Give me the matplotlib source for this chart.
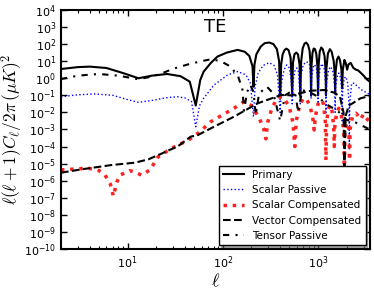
import numpy as np
import matplotlib
matplotlib.use('Agg')
import matplotlib.pyplot as plt
from matplotlib.ticker import LogLocator, NullFormatter

plt.rcParams['mathtext.fontset'] = 'cm'

# multipoles and log10 amplitudes
ell_pri = [2, 3, 4, 6, 9, 13, 18, 26, 36, 45, 52, 58, 63, 75, 88, 110, 143, 170, 190, 205, 210,
           215, 225, 250, 275, 307, 340, 370, 390, 400, 410, 425, 445, 465, 490, 515, 535, 545,
           565, 590, 615, 640, 650, 665, 690, 720, 750, 785, 815, 835, 845, 855, 875, 900, 930,
           960, 985, 1000, 1015, 1040, 1080, 1120, 1170, 1200, 1210, 1225, 1270, 1330, 1390,
           1460, 1500, 1510, 1530, 1580, 1640, 1700, 1760, 1790, 1820, 1890, 1950, 2020, 2080,
           2200, 2350, 2500, 2650, 2950, 3300, 3500]
pri = [0.54, 0.65, 0.68, 0.6, 0.3, 0.0, 0.15, 0.25, 0.12, -0.2, -1.6, -0.1, 0.39, 0.9, 1.27,
       1.5, 1.66, 1.55, 1.3, 0.7, -0.5, 0.8, 1.4, 1.85, 2.05, 2.09, 2.0, 1.7, 1.0, -1.2, 0.8,
       1.4, 1.65, 1.73, 1.65, 1.2, -0.9, 0.9, 1.4, 1.5, 1.4, 0.8, -1.0, 1.0, 1.75, 2.02, 2.09,
       1.95, 1.6, 0.8, -1.0, 0.8, 1.5, 1.74, 1.7, 1.4, 0.7, -1.0, 0.8, 1.55, 1.8, 1.7, 1.3, 0.5,
       -1.0, 0.6, 1.45, 1.7, 1.55, 1.0, 0.2, -0.9, 0.4, 1.1, 1.27, 1.05, 0.5, -0.6, 0.5, 1.07,
       0.9, 0.5, 0.8, 0.9, 0.6, 0.5, 0.45, 0.2, -0.1, -0.2]

ell_sp = [2, 3, 4.5, 7, 10, 13, 18, 25, 33, 40, 47, 52, 57, 63, 81, 112, 143, 175, 195, 210,
          218, 235, 265, 307, 345, 375, 400, 415, 440, 470, 500, 525, 535, 550, 575, 600, 625,
          650, 665, 700, 760, 810, 835, 845, 860, 890, 920, 960, 990, 1000, 1015, 1050, 1100,
          1160, 1200, 1210, 1230, 1290, 1360, 1440, 1495, 1510, 1530, 1600, 1650, 1720, 1775,
          1790, 1810, 1880, 1960, 2050, 2110, 2130, 2150, 2250, 2400, 2600, 2900, 3300, 3500]
sp = [-1.08, -0.97, -0.92, -1.0, -1.25, -1.41, -1.3, -1.15, -1.08, -1.15, -1.37, -2.84, -1.6,
      -1.17, -0.39, 0.19, 0.39, 0.2, -0.3, -2.25, -0.5, 0.3, 0.75, 0.91, 0.75, 0.2, -2.0, -0.2,
      0.5, 0.78, 0.6, -0.2, -1.5, -0.1, 0.5, 0.6, 0.35, -1.5, 0.2, 0.8, 0.97, 0.85, 0.2, -1.2,
      0.1, 0.65, 0.8, 0.6, -0.1, -1.5, -0.1, 0.6, 0.85, 0.55, -0.3, -2.0, -0.3, 0.5, 0.68, 0.35,
      -0.5, -2.0, -0.5, 0.2, 0.3, 0.05, -0.8, -2.5, -0.8, 0.0, 0.09, -0.3, -1.5, -4.2, -1.5,
      -0.3, -0.29, -0.5, -0.7, -0.88, -0.95]

ell_sc = [2, 3, 3.9, 5, 5.8, 6.6, 7.1, 7.7, 8.3, 10.6, 12, 14, 17.2, 21, 29, 43.5, 55, 75, 131,
          167, 200, 240, 270, 283, 295, 330, 370, 410, 450, 500, 545, 570, 590, 640, 700, 760,
          820, 880, 910, 940, 1000, 1090, 1140, 1190, 1210, 1230, 1280, 1340, 1400, 1460, 1480,
          1500, 1570, 1650, 1760, 1860, 1890, 1920, 2000, 2110, 2140, 2170, 2300, 2510, 2800,
          3000, 3330, 3500]
sc = [-5.37, -5.3, -5.27, -5.4, -5.67, -6.2, -6.9, -6.1, -5.67, -5.41, -5.5, -5.67, -5.37,
      -4.59, -4.1, -3.62, -3.22, -2.54, -1.76, -1.37, -1.6, -2.3, -3.0, -3.55, -2.6, -1.7, -1.2,
      -1.08, -1.25, -1.7, -2.6, -4.0, -2.5, -1.6, -1.17, -1.25, -1.6, -2.3, -3.03, -2.2, -1.5,
      -1.27, -1.5, -2.5, -4.8, -2.6, -1.8, -1.57, -1.9, -2.8, -4.0, -2.8, -2.0, -1.76, -2.2,
      -3.0, -5.2, -3.0, -2.6, -3.0, -4.8, -3.0, -2.2, -2.05, -2.4, -2.1, -2.44, -2.6]

ell_vc = [2, 3.3, 6.8, 12, 16.5, 23, 34, 46, 55, 75, 131, 232, 410, 520, 840, 1160, 1500, 1700,
          1850, 1890, 1950, 2100, 2300, 2800, 3500]
vc = [-5.53, -5.33, -5.08, -4.94, -4.75, -4.4, -3.97, -3.42, -3.32, -2.93, -2.25, -1.47, -0.98,
      -1.0, -0.73, -0.69, -0.85, -1.1, -2.0, -5.2, -2.2, -1.6, -1.47, -1.17, -1.04]

ell_tp = [2, 3, 5, 8, 13, 18, 23, 30, 45, 60, 75, 95, 121, 145, 161, 167, 180, 195, 210, 222,
          240, 290, 340, 400, 450, 520, 580, 620, 680, 800, 1000, 1200, 1600, 2000, 2500, 3500]
tp = [-0.05, 0.15, 0.25, 0.15, -0.06, 0.1, 0.29, 0.55, 0.84, 1.0, 1.11, 1.0, 0.68, 0.1, -0.69,
      -1.9, -0.8, -0.4, -0.8, -2.15, -0.9, -0.49, -0.9, -2.5, -1.0, -0.78, -1.0, -2.0, -0.7,
      -0.8, -1.08, -1.5, -1.9, -2.44, -2.6, -3.0]

labels = ['Primary', 'Scalar Passive', 'Scalar Compensated', 'Vector Compensated', 'Tensor Passive']

fig = plt.figure(figsize=(3.74, 2.91), dpi=100)
ax = fig.add_axes([0.163, 0.144, 0.826, 0.822])

ax.plot(ell_pri, 10.0 ** np.array(pri), color='k', lw=1.5, label=labels[0])
ax.plot(ell_sp, 10.0 ** np.array(sp), color='b', ls=':', lw=1.0, label=labels[1])
ax.plot(ell_sc, 10.0 ** np.array(sc), color='#ff2020', ls=':', lw=2.5, label=labels[2])
ax.plot(ell_vc, 10.0 ** np.array(vc), color='k', ls='--', lw=1.5, label=labels[3])
ax.plot(ell_tp, 10.0 ** np.array(tp), color='k', ls=(0, (3, 3, 1, 3)), lw=1.5, label=labels[4])

ax.set_xscale('log')
ax.set_yscale('log')
ax.set_xlim(2, 3500)
ax.set_ylim(1e-10, 1e4)
ax.yaxis.set_major_locator(LogLocator(base=10, numticks=30))
ax.yaxis.set_minor_formatter(NullFormatter())
ax.tick_params(which='both', direction='in', top=True, right=True, labelsize=8)
ax.tick_params(which='major', length=4, width=1)
ax.tick_params(which='minor', length=2, width=0.8)
for s in ax.spines.values():
    s.set_linewidth(1.5)

ax.set_xlabel(r'$\ell$', fontsize=13)
ax.xaxis.set_label_coords(0.5, -0.095)
ax.set_ylabel(r'$\ell(\ell+1)C_\ell/2\pi\,(\mu K)^2$', fontsize=12.5)
ax.yaxis.set_label_coords(-0.115, 0.5)
ax.text(0.5, 0.93, 'TE', transform=ax.transAxes, ha='center', va='center', fontsize=13)

leg = ax.legend(loc='lower right', fontsize=7.5, fancybox=False,
                shadow={'ox': 1.2, 'oy': -1.2, 'color': '0.4'},
                edgecolor='k', framealpha=1, borderaxespad=0.4)
leg.get_frame().set_linewidth(1.0)

fig.savefig('out.png', dpi=100)
